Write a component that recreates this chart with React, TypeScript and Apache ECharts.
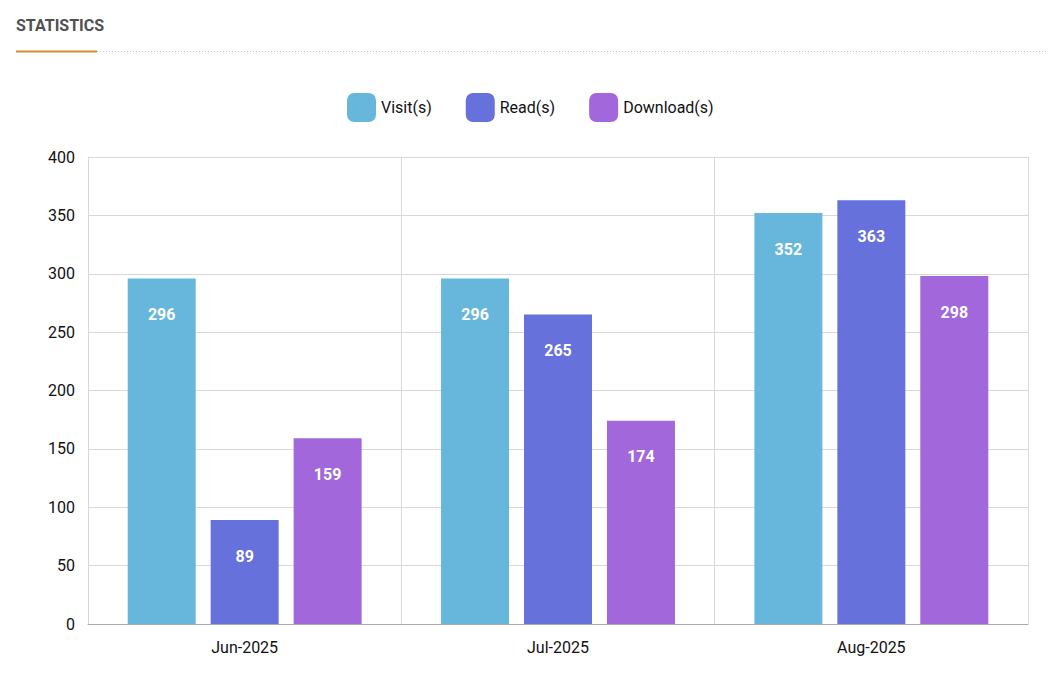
import React, { useEffect, useRef } from "react";
import * as echarts from "echarts";

const categories = ["Jun-2025", "Jul-2025", "Aug-2025"];
const seriesNames = ["Visit(s)", "Read(s)", "Download(s)"];
const visits = [296, 296, 352];
const reads = [89, 265, 363];
const downloads = [159, 174, 298];
const colors = ["#67b7dc", "#6771dc", "#a367dc"];

export default function App() {
  const ref = useRef<HTMLDivElement>(null);
  useEffect(() => {
    if (!ref.current) return;
    const chart = echarts.init(ref.current, null, { renderer: "svg" });
    const font = "Roboto, 'Liberation Sans', sans-serif";
    const data = [visits, reads, downloads];
    chart.setOption({
      animation: false,
      textStyle: { fontFamily: font },
      graphic: [
        {
          type: "text",
          left: 16,
          top: 17,
          style: { text: "STATISTICS", fontSize: 16, fontWeight: "bold", fill: "#505050", fontFamily: font },
        },
        {
          type: "line",
          shape: { x1: 97, y1: 51.5, x2: 1046, y2: 51.5 },
          style: { stroke: "#c4c4c4", lineWidth: 1, lineDash: [1, 2] },
        },
        {
          type: "line",
          shape: { x1: 16, y1: 51.5, x2: 97, y2: 51.5 },
          style: { stroke: "#d4902a", lineWidth: 2 },
        },
      ],
      legend: {
        left: 342,
        top: 88,
        itemWidth: 29,
        itemHeight: 29,
        itemGap: 34,
        icon: "roundRect",
        textStyle: { fontSize: 16, color: "#111", fontFamily: font },
        data: seriesNames,
      },
      grid: { left: 88, right: 22, top: 157, bottom: 52, containLabel: false },
      xAxis: {
        type: "category",
        data: categories,
        axisLine: { lineStyle: { color: "#aaaaaa" } },
        axisTick: { show: false },
        axisLabel: { fontSize: 16, color: "#111", margin: 15 },
        splitLine: { show: true, lineStyle: { color: "#d8d8d8" } },
      },
      yAxis: {
        type: "value",
        min: 0,
        max: 400,
        interval: 50,
        axisLine: { show: true, lineStyle: { color: "#d8d8d8" } },
        axisTick: { show: false },
        axisLabel: { fontSize: 16, color: "#111", margin: 13 },
        splitLine: { lineStyle: { color: "#d8d8d8" } },
      },
      series: seriesNames.map((name, i) => ({
        name,
        type: "bar",
        data: data[i],
        barWidth: 68,
        barGap: "22%",
        itemStyle: { color: colors[i] },
        label: {
          show: true,
          position: "insideTop",
          distance: 28,
          color: "#fff",
          fontSize: 16,
          fontWeight: "bold",
        },
      })),
    });
    return () => chart.dispose();
  }, []);
  return <div ref={ref} style={{ position: "absolute", left: 0, top: 0, width: 1050, height: 676 }} />;
}
